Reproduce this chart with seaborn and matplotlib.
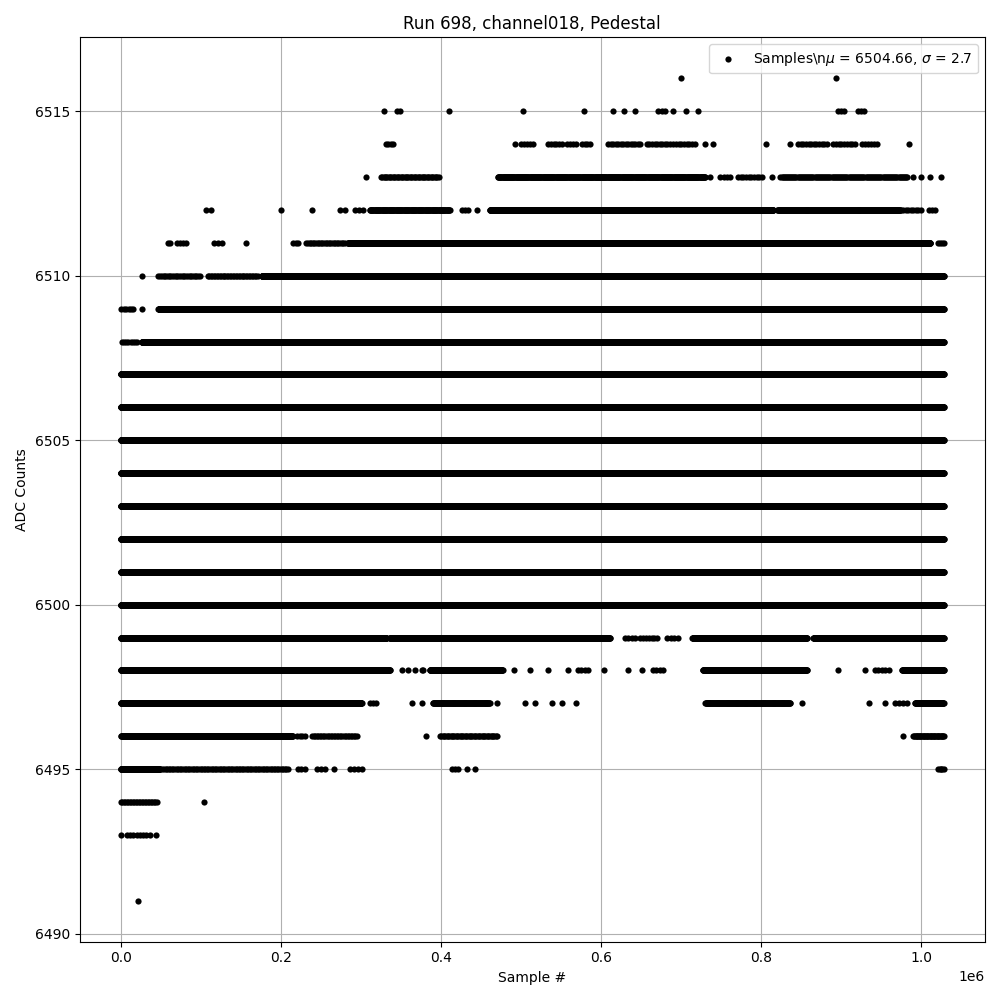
import numpy as np
import pandas as pd
import seaborn as sns
import matplotlib
matplotlib.use("Agg")
import matplotlib.pyplot as plt

# Runs of samples per ADC level: (first sample, last sample, number of dots), samples in units of 1e3
adc_6516 = [(700, 700, 1), (893, 893, 1)]
adc_6515 = [(329, 329, 1), (345, 349, 2), (410, 410, 1), (502, 502, 1), (579, 579, 1),
            (615, 615, 1), (628, 628, 1), (642, 642, 1), (671, 680, 3), (690, 690, 1),
            (706, 706, 1), (721, 721, 1), (896, 903, 3), (921, 928, 3)]
adc_6514 = [(331, 340, 4), (492, 492, 1), (500, 515, 5), (534, 551, 6), (557, 568, 4),
            (576, 586, 4), (609, 649, 14), (657, 686, 10), (690, 717, 9), (730, 730, 1),
            (740, 740, 1), (806, 806, 1), (836, 836, 1), (846, 882, 12), (890, 917, 9),
            (926, 945, 6), (984, 984, 1)]
adc_6513 = [(306, 306, 1), (325, 397, 45), (471, 730, 400), (736, 736, 1), (749, 761, 4),
            (771, 801, 10), (814, 814, 1), (824, 982, 120), (989, 989, 1), (999, 999, 1),
            (1011, 1011, 1), (1024, 1024, 1)]
adc_6512 = [(107, 113, 2), (200, 200, 1), (239, 239, 1), (274, 280, 2), (292, 302, 3),
            (311, 411, 150), (426, 434, 3), (445, 445, 1), (461, 815, 1200), (820, 974, 250),
            (977, 999, 8), (1009, 1017, 3)]
adc_6511 = [(59, 62, 2), (70, 82, 4), (116, 126, 3), (156, 156, 1), (215, 222, 3),
            (232, 280, 25), (284, 1011, 2900), (1021, 1028, 4)]
adc_6510 = [(26, 26, 1), (47, 99, 25), (109, 171, 35), (176, 1028, 3400)]
adc_6509 = [(1, 16, 6), (26, 26, 1), (47, 1028, 3900)]
adc_6508 = [(2, 20, 8), (26, 1028, 4000)]
adc_6507 = [(0, 1028, 4100)]
adc_6506 = [(0, 1028, 4100)]
adc_6505 = [(0, 1028, 4100)]
adc_6504 = [(0, 1028, 4100)]
adc_6503 = [(0, 1028, 4100)]
adc_6502 = [(0, 1028, 4100)]
adc_6501 = [(0, 1028, 4100)]
adc_6500 = [(0, 1028, 4100)]
adc_6499 = [(0, 332, 1300), (336, 611, 900), (630, 642, 4), (649, 670, 7), (682, 696, 4),
            (714, 857, 500), (865, 1028, 600)]
adc_6498 = [(0, 336, 1300), (351, 376, 4), (378, 378, 1), (386, 477, 250), (491, 491, 1),
            (511, 511, 1), (534, 534, 1), (559, 559, 1), (571, 584, 4), (604, 604, 1),
            (634, 634, 1), (651, 651, 1), (665, 677, 4), (727, 857, 350), (896, 896, 1),
            (930, 930, 1), (942, 959, 5), (976, 1028, 150)]
adc_6497 = [(0, 301, 1000), (311, 319, 3), (364, 364, 1), (376, 376, 1), (390, 461, 120),
            (470, 470, 1), (505, 505, 1), (517, 517, 1), (539, 539, 1), (551, 551, 1),
            (569, 569, 1), (730, 836, 180), (851, 851, 1), (935, 935, 1), (954, 954, 1),
            (967, 982, 4), (992, 1028, 80)]
adc_6496 = [(0, 215, 400), (220, 230, 4), (239, 295, 30), (381, 381, 1), (399, 470, 45),
            (977, 977, 1), (990, 1028, 40)]
adc_6495 = [(0, 49, 150), (52, 209, 80), (221, 230, 3), (245, 255, 3), (267, 267, 1),
            (286, 301, 4), (414, 421, 3), (432, 432, 1), (442, 442, 1), (1021, 1028, 5)]
adc_6494 = [(0, 45, 25), (104, 104, 1)]
adc_6493 = [(0, 0, 1), (8, 36, 8), (44, 44, 1)]
adc_6491 = [(22, 22, 1)]

levels = {
    6516: adc_6516, 6515: adc_6515, 6514: adc_6514, 6513: adc_6513, 6512: adc_6512,
    6511: adc_6511, 6510: adc_6510, 6509: adc_6509, 6508: adc_6508, 6507: adc_6507,
    6506: adc_6506, 6505: adc_6505, 6504: adc_6504, 6503: adc_6503, 6502: adc_6502,
    6501: adc_6501, 6500: adc_6500, 6499: adc_6499, 6498: adc_6498, 6497: adc_6497,
    6496: adc_6496, 6495: adc_6495, 6494: adc_6494, 6493: adc_6493, 6491: adc_6491,
}

mean_adc = 6504.66
std_adc = 2.7

# Expand runs into sample positions
xs, ys = [], []
for level, runs in levels.items():
    for start, end, n in runs:
        pos = np.linspace(start, end, n) * 1e3
        xs.append(pos)
        ys.append(np.full(len(pos), level))
df = pd.DataFrame({"sample": np.concatenate(xs), "adc": np.concatenate(ys)})

fig, ax = plt.subplots(figsize=(10, 10), dpi=100)
sns.scatterplot(data=df, x="sample", y="adc", color="k", s=20, linewidth=0, ax=ax,
                zorder=2,
                label=r"Samples\n$\mu$ = %.2f, $\sigma$ = %.1f" % (mean_adc, std_adc))
ax.set_title("Run 698, channel018, Pedestal")
ax.set_xlabel("Sample #")
ax.set_ylabel("ADC Counts")
ax.grid(True)
ax.legend(loc="upper right")
plt.tight_layout()
plt.savefig("out.png")
